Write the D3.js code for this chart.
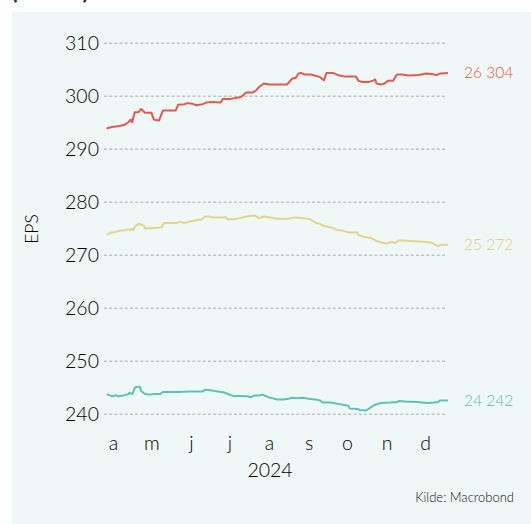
<!DOCTYPE html>
<html>
<head>
<meta charset="utf-8">
<script src="https://cdn.jsdelivr.net/npm/d3@7"></script>
<style>
  html, body { margin: 0; padding: 0; background: #ffffff; }
  svg { display: block; }
  text { font-family: Lato, "Open Sans", sans-serif; font-weight: 300; }
</style>
</head>
<body>
<svg id="chart" width="531" height="524"></svg>
<script>
// EPS estimates for three calendar years, 2024
const seriesNames = ["26 304", "25 272", "24 242"];
const seriesColors = ["#e05a4f", "#e2d38d", "#5dc3b0"];
const labelColors = ["#e0554a", "#dccb80", "#55bfab"];

const dates26 = ["2024-03-27","2024-03-31","2024-04-06","2024-04-10","2024-04-13","2024-04-15","2024-04-16","2024-04-18","2024-04-21","2024-04-23","2024-04-26","2024-05-01","2024-05-03","2024-05-07","2024-05-10","2024-05-20","2024-05-22","2024-05-27","2024-05-29","2024-06-02","2024-06-05","2024-06-10","2024-06-13","2024-06-18","2024-06-24","2024-06-26","2024-07-02","2024-07-09","2024-07-11","2024-07-14","2024-07-19","2024-07-22","2024-07-24","2024-07-28","2024-08-01","2024-08-06","2024-08-15","2024-08-19","2024-08-22","2024-08-24","2024-08-26","2024-08-29","2024-09-03","2024-09-10","2024-09-13","2024-09-15","2024-09-20","2024-09-25","2024-09-30","2024-10-08","2024-10-10","2024-10-13","2024-10-18","2024-10-22","2024-10-23","2024-10-24","2024-10-28","2024-10-31","2024-11-02","2024-11-06","2024-11-09","2024-11-13","2024-11-18","2024-11-26","2024-12-02","2024-12-06","2024-12-10","2024-12-13","2024-12-19"];
const values26 = [293.8,294.1,294.3,294.5,295.0,295.5,295.0,296.9,296.9,297.5,296.8,296.8,295.5,295.3,297.2,297.2,298.3,298.4,298.6,298.5,298.2,298.4,298.7,298.8,298.7,299.4,299.4,299.7,299.9,300.6,300.6,301.0,301.6,302.3,302.1,302.1,302.1,303.2,303.4,304.2,304.3,304.0,304.0,303.5,302.9,304.3,304.3,303.8,303.6,303.6,302.8,302.6,302.6,302.9,303.1,302.3,302.1,302.4,302.8,302.8,304.0,304.0,303.8,303.9,304.2,304.1,303.9,304.2,304.3];

const dates25 = ["2024-03-27","2024-03-31","2024-04-03","2024-04-06","2024-04-10","2024-04-13","2024-04-14","2024-04-16","2024-04-17","2024-04-18","2024-04-21","2024-04-23","2024-04-25","2024-04-26","2024-04-30","2024-05-06","2024-05-09","2024-05-11","2024-05-16","2024-05-21","2024-05-23","2024-05-27","2024-05-30","2024-06-03","2024-06-07","2024-06-09","2024-06-12","2024-06-15","2024-06-18","2024-06-26","2024-06-28","2024-06-30","2024-07-04","2024-07-09","2024-07-14","2024-07-21","2024-07-24","2024-07-26","2024-07-28","2024-08-02","2024-08-08","2024-08-15","2024-08-17","2024-08-20","2024-08-23","2024-08-28","2024-09-02","2024-09-06","2024-09-10","2024-09-13","2024-09-18","2024-09-23","2024-09-28","2024-10-03","2024-10-09","2024-10-10","2024-10-14","2024-10-19","2024-10-22","2024-10-24","2024-10-28","2024-11-01","2024-11-03","2024-11-05","2024-11-08","2024-11-10","2024-11-14","2024-11-19","2024-11-27","2024-12-06","2024-12-09","2024-12-11","2024-12-14","2024-12-19"];
const values25 = [273.8,274.2,274.3,274.5,274.6,274.8,274.6,274.9,274.6,275.3,275.8,275.7,275.5,275.0,275.0,275.1,275.2,276.0,276.0,276.0,276.2,276.0,276.2,276.4,276.6,276.6,277.2,277.2,277.0,277.0,277.1,276.7,276.7,276.9,277.2,277.4,276.9,277.0,277.2,277.0,276.8,276.8,276.8,277.0,277.0,276.9,276.7,276.1,275.8,275.4,275.2,274.7,274.5,274.2,274.2,273.7,273.4,273.2,272.9,272.6,272.3,272.1,272.3,272.4,272.2,272.7,272.7,272.6,272.5,272.3,271.9,271.6,271.9,271.9];

const dates24 = ["2024-03-27","2024-03-30","2024-04-01","2024-04-03","2024-04-05","2024-04-08","2024-04-10","2024-04-13","2024-04-14","2024-04-16","2024-04-17","2024-04-18","2024-04-20","2024-04-22","2024-04-23","2024-04-26","2024-04-30","2024-05-04","2024-05-08","2024-05-10","2024-05-16","2024-05-23","2024-05-31","2024-06-06","2024-06-10","2024-06-12","2024-06-17","2024-06-22","2024-06-27","2024-07-02","2024-07-05","2024-07-08","2024-07-12","2024-07-15","2024-07-18","2024-07-20","2024-07-25","2024-07-27","2024-07-30","2024-08-02","2024-08-07","2024-08-12","2024-08-16","2024-08-19","2024-08-23","2024-08-27","2024-09-01","2024-09-06","2024-09-10","2024-09-12","2024-09-18","2024-09-23","2024-09-28","2024-10-02","2024-10-03","2024-10-09","2024-10-11","2024-10-16","2024-10-19","2024-10-23","2024-10-27","2024-11-04","2024-11-09","2024-11-11","2024-11-15","2024-11-25","2024-12-03","2024-12-08","2024-12-11","2024-12-13","2024-12-19"];
const values24 = [243.7,243.4,243.3,243.5,243.3,243.4,243.5,243.7,244.0,243.7,244.2,244.9,245.1,245.1,244.3,243.7,243.6,243.7,243.7,244.1,244.1,244.1,244.2,244.2,244.2,244.5,244.4,244.2,244.0,243.5,243.3,243.4,243.3,243.3,243.1,243.4,243.5,243.6,243.3,243.0,242.7,242.7,242.8,243.0,242.9,243.0,242.8,242.7,242.5,242.1,242.1,241.9,241.7,241.5,241.0,240.9,240.7,240.6,241.1,241.7,242.0,242.1,242.2,242.4,242.3,242.2,242.0,242.1,242.2,242.5,242.5];

const yTicks = [240, 250, 260, 270, 280, 290, 300, 310];
const monthTicks = ["2024-04-01","2024-05-01","2024-06-01","2024-07-01","2024-08-01","2024-09-01","2024-10-01","2024-11-01","2024-12-01"];
const monthLabels = ["a","m","j","j","a","s","o","n","d"];
const yearLabel = "2024";
const yTitle = "EPS";
const sourceText = "Kilde: Macrobond";
const unitText = "(USD)";

const parse = d3.utcParse("%Y-%m-%d");
const series = [
  { name: seriesNames[0], color: seriesColors[0], label: labelColors[0], dates: dates26, values: values26 },
  { name: seriesNames[1], color: seriesColors[1], label: labelColors[1], dates: dates25, values: values25 },
  { name: seriesNames[2], color: seriesColors[2], label: labelColors[2], dates: dates24, values: values24 }
].map(s => ({ ...s, points: s.dates.map((d, i) => ({ date: parse(d), value: s.values[i] })) }));

const svg = d3.select("#chart");

// unit heading, running off the top edge above the panel
svg.append("text")
  .attr("x", 11).attr("y", -1)
  .attr("font-size", 24)
  .style("font-weight", 700)
  .attr("fill", "#1c3468")
  .attr("textLength", 78)
  .text(unitText);

// panel background
svg.append("rect")
  .attr("x", 12).attr("y", 12)
  .attr("width", 519).attr("height", 512)
  .attr("fill", "#eff8f7");

const x = d3.scaleUtc()
  .domain([parse(monthTicks[0]), parse(monthTicks[monthTicks.length - 1])])
  .range([113, 425]);

const y = d3.scaleLinear()
  .domain([240, 310])
  .range([413.7, 42.7]);

// horizontal grid + tick labels
const yAxis = d3.axisLeft(y)
  .tickValues(yTicks)
  .tickSize(-341)
  .tickPadding(5)
  .tickFormat(d3.format("d"));

const gy = svg.append("g")
  .attr("transform", "translate(104,0)")
  .call(yAxis);
gy.select(".domain").remove();
gy.selectAll(".tick line")
  .attr("stroke", "#a9acac")
  .attr("stroke-width", 1)
  .attr("stroke-dasharray", "3,2.2");
gy.selectAll(".tick text")
  .attr("font-size", 19.5)
  .attr("fill", "#000")
  .attr("dy", "0.36em");

// month axis
const xAxis = d3.axisBottom(x)
  .tickValues(monthTicks.map(parse))
  .tickSize(0)
  .tickPadding(0)
  .tickFormat((d, i) => monthLabels[i]);

const gx = svg.append("g")
  .attr("transform", "translate(0,436)")
  .call(xAxis);
gx.select(".domain").remove();
gx.selectAll(".tick text")
  .attr("font-size", 19.5)
  .attr("fill", "#000")
  .attr("dy", "0.71em");

svg.append("text")
  .attr("x", 270).attr("y", 477)
  .attr("text-anchor", "middle")
  .attr("font-size", 19.5)
  .attr("fill", "#000")
  .text(yearLabel);

svg.append("text")
  .attr("transform", "translate(38,229) rotate(-90)")
  .attr("text-anchor", "middle")
  .attr("font-size", 17.5)
  .attr("fill", "#000")
  .text(yTitle);

// series lines
const line = d3.line()
  .x(d => x(d.date))
  .y(d => y(d.value));

series.forEach(s => {
  svg.append("path")
    .datum(s.points)
    .attr("fill", "none")
    .attr("stroke", s.color)
    .attr("stroke-width", 2)
    .attr("stroke-linejoin", "round")
    .attr("d", line);

  const last = s.points[s.points.length - 1];
  svg.append("text")
    .attr("x", 464)
    .attr("y", y(last.value))
    .attr("dy", "0.35em")
    .attr("font-size", 15.5)
    .attr("fill", s.label)
    .text(s.name);
});

svg.append("text")
  .attr("x", 514).attr("y", 502)
  .attr("text-anchor", "end")
  .attr("font-size", 13)
  .attr("fill", "#111")
  .text(sourceText);
</script>
</body>
</html>
